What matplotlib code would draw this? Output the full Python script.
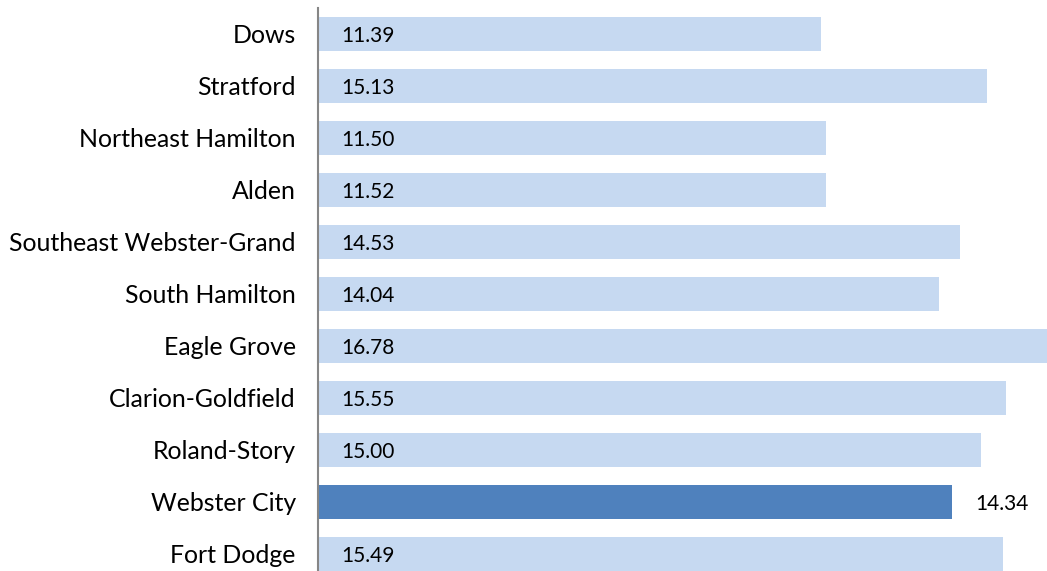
import numpy as np
import matplotlib.pyplot as plt

districts = ['Dows', 'Stratford', 'Northeast Hamilton', 'Alden',
             'Southeast Webster-Grand', 'South Hamilton', 'Eagle Grove',
             'Clarion-Goldfield', 'Roland-Story', 'Webster City', 'Fort Dodge']
values = [11.39, 15.13, 11.50, 11.52, 14.53, 14.04, 16.78, 15.55, 15.00, 14.34, 15.49]
highlight = 'Webster City'

light = '#C6D9F1'
dark = '#4F81BD'

W, H = 1047, 571
fig = plt.figure(figsize=(W / 100, H / 100), dpi=100)
ax = fig.add_axes([318 / W, 0, (W - 318) / W, (H - 8) / H])

y = np.arange(len(districts))
colors = [dark if d == highlight else light for d in districts]
ax.barh(y, values, height=0.65, color=colors, zorder=2)

ax.set_xlim(0.085, 16.48)
ax.set_ylim(10.33, -0.5)

ax.set_yticks(y)
ax.set_yticklabels(districts, fontsize=17.9, family=['Lato', 'DejaVu Sans'])
ax.tick_params(axis='y', length=0, pad=16)
ax.set_xticks([])

for s in ['top', 'right', 'bottom']:
    ax.spines[s].set_visible(False)
ax.spines['left'].set_color('#868686')
ax.spines['left'].set_linewidth(1.5)

for yi, v, d in zip(y, values, districts):
    x0 = v if d == highlight else 0.085
    ax.annotate(f'{v:.2f}', (x0, yi), xytext=(17, -1.5), textcoords='offset points',
                va='center', ha='left', fontsize=15, family=['Lato', 'DejaVu Sans'])

fig.savefig('out.png', dpi=100)
